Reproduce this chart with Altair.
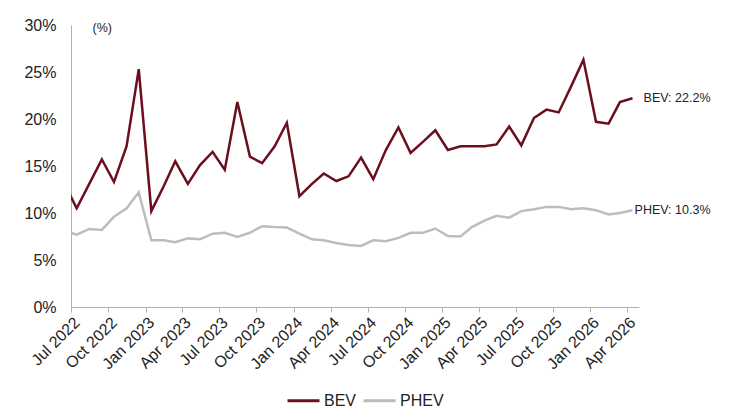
import altair as alt
import pandas as pd

# Months (mid-month points); Jun 2022 lies just left of the axis and is clipped
months = pd.date_range("2022-06-01", "2026-04-01", freq="MS")
dates = [(m + pd.Timedelta(days=14)).strftime("%Y-%m-%d") for m in months]

bev = [13.1,
       10.5, 13.1, 15.7, 13.3, 17.1, 25.3,
       10.2, 12.9, 15.5, 13.1, 15.1, 16.5, 14.6, 21.8, 16.0, 15.3, 17.1, 19.6,
       11.8, 13.1, 14.2, 13.4, 13.9, 15.9, 13.6, 16.7, 19.1, 16.4, 17.6, 18.8,
       16.7, 17.1, 17.1, 17.1, 17.3, 19.2, 17.2, 20.1, 21.0, 20.7, 23.5, 26.3,
       19.7, 19.5, 21.8, 22.2]
phev = [8.1,
        7.7, 8.3, 8.2, 9.6, 10.5, 12.2,
        7.1, 7.1, 6.9, 7.3, 7.2, 7.8, 7.9, 7.45, 7.9, 8.6, 8.5, 8.45,
        7.8, 7.2, 7.1, 6.8, 6.6, 6.5, 7.1, 7.0, 7.35, 7.9, 7.9, 8.35,
        7.55, 7.5, 8.5, 9.2, 9.7, 9.5, 10.2, 10.4, 10.65, 10.65, 10.4, 10.5,
        10.3, 9.85, 10.0, 10.3]

series_names = ["BEV", "PHEV"]
colors = ["#6B0E1E", "#BDBDBD"]
end_labels = ["BEV: 22.2%", "PHEV: 10.3%"]
y_ticks = [0, 5, 10, 15, 20, 25, 30]

rows = []
for d, b, p in zip(dates, bev, phev):
    rows.append({"date": d, "series": "BEV", "value": b})
    rows.append({"date": d, "series": "PHEV", "value": p})
df = pd.DataFrame(rows)

lab_df = pd.DataFrame({
    "date": [dates[-1], dates[-1]],
    "series": series_names,
    "value": [bev[-1], phev[-1]],
    "label": end_labels,
})

FONT = "Liberation Sans"

x_enc = alt.X(
    "date:T",
    scale=alt.Scale(type="utc", domain=[alt.DateTime(year=2022, month=7, date=1, utc=True),
                                        alt.DateTime(year=2026, month=5, date=1, utc=True)]),
    axis=alt.Axis(
        title=None, format="%b %Y", labelAngle=-45, labelFontSize=16, labelColor="#222",
        tickCount={"interval": "month", "step": 3}, tickSize=5, tickColor="#B0B0B0",
        domainColor="#B0B0B0", grid=False, labelPadding=2, labelFont=FONT,
        labelOverlap=False, labelBound=False, labelFlush=False,
    ),
)
y_enc = alt.Y(
    "value:Q",
    scale=alt.Scale(domain=[0, 30], nice=False),
    axis=alt.Axis(
        title="(%)", titleAngle=0, titleAlign="left", titleBaseline="middle",
        titleX=21, titleY=2, titleFontSize=12.5, titleFontWeight="normal", titleFont=FONT,
        titleColor="#222",
        values=y_ticks, labelExpr="datum.value + '%'", ticks=False, grid=False,
        domainColor="#B0B0B0", labelFontSize=16, labelPadding=15, labelColor="#222",
        labelFont=FONT,
    ),
)

lines = alt.Chart(df).mark_line(strokeWidth=2.5, clip=True).encode(
    x=x_enc,
    y=y_enc,
    color=alt.Color(
        "series:N",
        scale=alt.Scale(domain=series_names, range=colors),
        legend=alt.Legend(
            title=None, orient="none", direction="horizontal", legendX=215, legendY=358,
            symbolType="stroke", symbolSize=1024, symbolStrokeWidth=3,
            labelFontSize=16, labelFont=FONT, labelColor="#222", labelOffset=3,
            columnPadding=0,
        ),
    ),
)

labels = alt.Chart(lab_df).mark_text(
    align="right", baseline="middle", dx=78, fontSize=12.5, font=FONT, color="#222"
).encode(
    x="date:T",
    y="value:Q",
    text="label:N",
)

chart = alt.layer(lines, labels).properties(
    width=568,
    height=282,
    autosize=alt.AutoSizeParams(type="none"),
    padding={"left": 63, "top": 17, "right": 100, "bottom": 104},
).configure_view(stroke=None)

chart.save("out.html", embed_options={"renderer": "svg", "actions": False})
